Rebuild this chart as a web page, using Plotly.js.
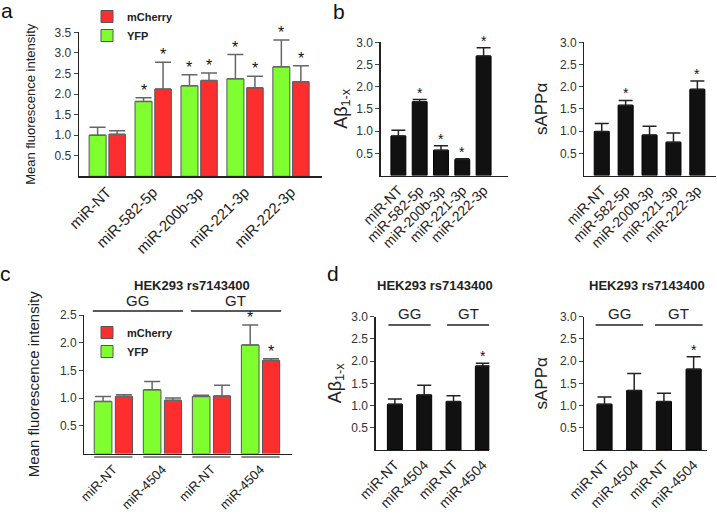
<!DOCTYPE html>
<html>
<head>
<meta charset="utf-8">
<script src="https://cdn.plot.ly/plotly-3.0.1.min.js"></script>
<style>html,body{margin:0;padding:0;background:#fff;}#chart{width:717px;height:516px;}</style>
</head>
<body>
<div id="chart"></div>
<script>
// ---------- data ----------
const aCategories = ["miR-NT", "miR-582-5p", "miR-200b-3p", "miR-221-3p", "miR-222-3p"];
const aYfp = [1.00, 1.82, 2.20, 2.37, 2.66];
const aYfpErr = [0.19, 0.09, 0.27, 0.59, 0.65];
const aYfpSig = [false, true, true, true, true];
const aCherry = [1.02, 2.12, 2.33, 2.15, 2.30];
const aCherryErr = [0.09, 0.65, 0.18, 0.28, 0.39];
const aCherrySig = [false, true, true, true, true];

const bCategories = ["miR-NT", "miR-582-5p", "miR-200b-3p", "miR-221-3p", "miR-222-3p"];
const bAbeta = [0.89, 1.66, 0.57, 0.36, 2.69];
const bAbetaErr = [0.13, 0.05, 0.10, 0.02, 0.19];
const bAbetaSig = [false, true, true, true, true];
const bSappa = [0.99, 1.58, 0.91, 0.75, 1.94];
const bSappaErr = [0.18, 0.11, 0.20, 0.21, 0.19];
const bSappaSig = [false, true, false, false, true];

const genotypes = ["GG", "GT"];
const cdGenotype = ["GG", "GG", "GT", "GT"];
const cdCategories = ["GG miR-NT", "GG miR-4504", "GT miR-NT", "GT miR-4504"];
const cdTickLabels = ["miR-NT", "miR-4504", "miR-NT", "miR-4504"];
const cYfp = [0.94, 1.15, 1.03, 1.96];
const cYfpErr = [0.09, 0.15, 0.02, 0.36];
const cYfpSig = [false, false, false, true];
const cCherry = [1.03, 0.96, 1.04, 1.68];
const cCherryErr = [0.03, 0.04, 0.19, 0.03];
const cCherrySig = [false, false, false, true];
const dAbeta = [1.03, 1.24, 1.09, 1.89];
const dAbetaErr = [0.12, 0.22, 0.13, 0.06];
const dAbetaSig = [false, false, false, true];
const dSappa = [1.03, 1.34, 1.09, 1.82];
const dSappaErr = [0.16, 0.38, 0.19, 0.28];
const dSappaSig = [false, false, false, true];

const cellLine = "HEK293 rs7143400";

// ---------- style ----------
const W = 717, H = 516;
const px = v => v / W;
const py = v => 1 - v / H;
const FONT = "Liberation Sans, Arial, sans-serif";
const GREEN = "#80ff30";
const RED = "#ff2e2e";
const BLACK = "#111111";

function errBar(err, color, width) {
  return {type: "data", array: err, arrayminus: err.map(() => 0), symmetric: false,
          color: color, thickness: 1.5, width: width};
}

const traces = [];
const annotations = [];
const shapes = [];

function stars(xa, ya, vals, errs, sig, centerOffset, size) {
  vals.forEach((v, i) => {
    if (!sig[i]) return;
    annotations.push({xref: xa, yref: ya, x: i + centerOffset, y: v + errs[i], text: "*",
      showarrow: false, xanchor: "center", yanchor: "bottom", yshift: -3,
      font: {family: FONT, size: size, color: "#111"}});
  });
}

// panel a
traces.push({type: "bar", name: "mCherry", x: aCategories, y: aCherry, xaxis: "x", yaxis: "y",
  offset: 0.04, width: 0.36, marker: {color: RED, line: {color: "#555", width: 1}},
  error_y: errBar(aCherryErr, "#666", 8), legend: "legend"});
traces.push({type: "bar", name: "YFP", x: aCategories, y: aYfp, xaxis: "x", yaxis: "y",
  offset: -0.39, width: 0.37, marker: {color: GREEN, line: {color: "#555", width: 1}},
  error_y: errBar(aYfpErr, "#666", 8), legend: "legend"});
stars("x", "y", aYfp, aYfpErr, aYfpSig, -0.39 + 0.37 / 2, 16);
stars("x", "y", aCherry, aCherryErr, aCherrySig, 0.04 + 0.36 / 2, 16);

// panel b
traces.push({type: "bar", name: "Aβ1-x", x: bCategories, y: bAbeta, xaxis: "x2", yaxis: "y2",
  width: 0.7, marker: {color: BLACK, line: {color: "#000", width: 1}},
  error_y: errBar(bAbetaErr, "#222", 7), showlegend: false});
stars("x2", "y2", bAbeta, bAbetaErr, bAbetaSig, 0, 14);
traces.push({type: "bar", name: "sAPPα", x: bCategories, y: bSappa, xaxis: "x3", yaxis: "y3",
  width: 0.63, marker: {color: BLACK, line: {color: "#000", width: 1}},
  error_y: errBar(bSappaErr, "#222", 7), showlegend: false});
stars("x3", "y3", bSappa, bSappaErr, bSappaSig, 0, 14);

// panel c
traces.push({type: "bar", name: "mCherry", x: cdCategories, y: cCherry, xaxis: "x4", yaxis: "y4",
  offset: 0.04, width: 0.35, marker: {color: RED, line: {color: "#555", width: 1}},
  error_y: errBar(cCherryErr, "#666", 8), legend: "legend2"});
traces.push({type: "bar", name: "YFP", x: cdCategories, y: cYfp, xaxis: "x4", yaxis: "y4",
  offset: -0.39, width: 0.36, marker: {color: GREEN, line: {color: "#555", width: 1}},
  error_y: errBar(cYfpErr, "#666", 8), legend: "legend2"});
stars("x4", "y4", cYfp, cYfpErr, cYfpSig, -0.39 + 0.36 / 2, 16);
stars("x4", "y4", cCherry, cCherryErr, cCherrySig, 0.04 + 0.35 / 2, 16);

// panel d
traces.push({type: "bar", name: "Aβ1-x", x: cdCategories, y: dAbeta, xaxis: "x5", yaxis: "y5",
  width: 0.51, marker: {color: BLACK, line: {color: "#000", width: 1}},
  error_y: errBar(dAbetaErr, "#222", 7), showlegend: false});
stars("x5", "y5", dAbeta, dAbetaErr, dAbetaSig, 0, 14);
traces.push({type: "bar", name: "sAPPα", x: cdCategories, y: dSappa, xaxis: "x6", yaxis: "y6",
  width: 0.51, marker: {color: BLACK, line: {color: "#000", width: 1}},
  error_y: errBar(dSappaErr, "#222", 7), showlegend: false});
stars("x6", "y6", dSappa, dSappaErr, dSappaSig, 0, 14);

// genotype labels and lines
function genoLabels(xa, labelY, lineY, pad) {
  genotypes.forEach(g => {
    const idx = cdGenotype.map((gg, i) => gg === g ? i : -1).filter(i => i >= 0);
    const first = idx[0], last = idx[idx.length - 1];
    annotations.push({xref: xa, yref: "paper", x: (first + last) / 2, y: py(labelY), text: g,
      showarrow: false, xanchor: "center", yanchor: "middle", font: {family: FONT, size: 15, color: "#222"}});
    shapes.push({type: "line", xref: xa, yref: "paper", x0: first - pad, x1: last + pad,
      y0: py(lineY), y1: py(lineY), line: {color: "#222", width: 1.3}});
  });
}
genoLabels("x4", 300, 311, 0.42);
genoLabels("x5", 313, 325, 0.22);
genoLabels("x6", 313, 325, 0.3);

// bracket lines beneath the x axis in panel c
cdCategories.forEach((c, i) => {
  shapes.push({type: "line", xref: "x4", yref: "paper", x0: i - 0.39, x1: i + 0.39,
    y0: py(457), y1: py(457), line: {color: "#666", width: 1.5}});
});

// cell-line titles
[192, 435, 647].forEach(xc => {
  annotations.push({xref: "paper", yref: "paper", x: px(xc), y: py(285), text: "<b>" + cellLine + "</b>",
    showarrow: false, xanchor: "center", yanchor: "middle", font: {family: FONT, size: 13, color: "#222"}});
});

// panel letters
[["a", 7, 10], ["b", 339, 11], ["c", 5, 273], ["d", 333, 273]].forEach(p => {
  annotations.push({xref: "paper", yref: "paper", x: px(p[1]), y: py(p[2]), text: p[0],
    showarrow: false, xanchor: "center", yanchor: "middle", font: {family: FONT, size: 21, color: "#111"}});
});

function yAxis(dom, range, tickvals, title, titleSize, standoff) {
  return {domain: dom, range: range, showline: true, linecolor: "#222", linewidth: 1.3,
    ticks: "outside", ticklen: 4, tickwidth: 1, tickcolor: "#444", showgrid: false, zeroline: false,
    tickvals: tickvals, tickformat: ".1f", tickfont: {family: FONT, size: 12, color: "#333"},
    title: {text: title, font: {family: FONT, size: titleSize, color: "#222"}, standoff: standoff},
    fixedrange: true};
}
function xAxis(dom, range, anchor, fontSize, extra) {
  return Object.assign({domain: dom, range: range, anchor: anchor, type: "category", showline: true,
    linecolor: "#222", linewidth: 1.3, ticks: "", tickangle: -45, showgrid: false, zeroline: false,
    tickfont: {family: FONT, size: fontSize, color: "#222"}, fixedrange: true}, extra || {});
}
const ticksA = [0.5, 1.0, 1.5, 2.0, 2.5, 3.0, 3.5];
const ticks3 = [0.5, 1.0, 1.5, 2.0, 2.5, 3.0];
const ticksC = [0.5, 1.0, 1.5, 2.0, 2.5];
const cdTicks = {tickmode: "array", tickvals: cdCategories, ticktext: cdTickLabels};

const layout = {
  width: W, height: H, margin: {l: 0, r: 0, t: 0, b: 0}, paper_bgcolor: "#fff", plot_bgcolor: "rgba(0,0,0,0)",
  barmode: "overlay", font: {family: FONT, color: "#222"},
  xaxis: xAxis([px(79), px(322)], [-0.61, 4.68], "y", 15),
  yaxis: Object.assign(yAxis([py(176.3), py(32.3)], [0, 3.5], ticksA, "Mean fluorescence intensity", 13, 16), {anchor: "x"}),
  xaxis2: xAxis([px(380.7), px(508.3)], [-0.83, 5.16], "y2", 14),
  yaxis2: Object.assign(yAxis([py(175.5), py(42.3)], [0, 3], ticks3, "Aβ<sub>1-x</sub>", 18, 4), {anchor: "x2"}),
  xaxis3: xAxis([px(584.3), px(716)], [-0.73, 4.78], "y3", 14),
  yaxis3: Object.assign(yAxis([py(175.5), py(42.3)], [0, 3], ticks3, "sAPPα", 17, 8), {anchor: "x3"}),
  xaxis4: xAxis([px(84.3), px(291.7)], [-0.593, 3.636], "y4", 13, Object.assign({ticks: "outside", ticklen: 2, tickcolor: "rgba(0,0,0,0)"}, cdTicks)),
  yaxis4: Object.assign(yAxis([py(453.5), py(315)], [0, 2.5], ticksC, "Mean fluorescence intensity", 15, 16), {anchor: "x4"}),
  xaxis5: xAxis([px(375.7), px(489.3)], [-0.654, 3.22], "y5", 14, cdTicks),
  yaxis5: Object.assign(yAxis([py(450), py(316.7)], [0, 3], ticks3, "Aβ<sub>1-x</sub>", 18, 5), {anchor: "x5"}),
  xaxis6: xAxis([px(584.3), px(707.3)], [-0.68, 3.46], "y6", 14, cdTicks),
  yaxis6: Object.assign(yAxis([py(450), py(316.7)], [0, 3], ticks3, "sAPPα", 17, 8), {anchor: "x6"}),
  legend: {x: px(87), y: py(2), xanchor: "left", yanchor: "top", bgcolor: "rgba(0,0,0,0)",
    font: {family: FONT, size: 11, color: "#222", weight: "bold"}, tracegroupgap: 0},
  legend2: {x: px(87), y: py(318), xanchor: "left", yanchor: "top", bgcolor: "rgba(0,0,0,0)",
    font: {family: FONT, size: 11, color: "#222", weight: "bold"}, tracegroupgap: 0},
  annotations: annotations,
  shapes: shapes
};

Plotly.newPlot("chart", traces, layout, {displayModeBar: false, staticPlot: true});
</script>
</body>
</html>
